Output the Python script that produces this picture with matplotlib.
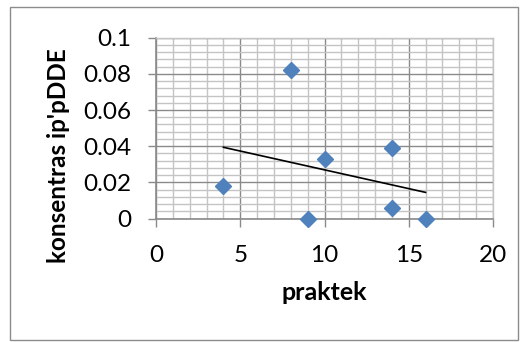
import numpy as np
import matplotlib
matplotlib.use("Agg")
import matplotlib.pyplot as plt
from matplotlib.ticker import MultipleLocator
from matplotlib.patches import Rectangle

# praktek vs. concentration of p'p-DDE
praktek = [4, 8, 9, 10, 14, 14, 16]
konsentrasi = [0.018, 0.082, 0.0, 0.033, 0.039, 0.006, 0.0]

x_ticks = [0, 5, 10, 15, 20]
y_ticks = [0, 0.02, 0.04, 0.06, 0.08, 0.1]
y_tick_labels = ["0", "0.02", "0.04", "0.06", "0.08", "0.1"]

plt.rcParams['font.family'] = ['Lato', 'DejaVu Sans']

fig = plt.figure(figsize=(5.23, 3.42), dpi=100)
ax = fig.add_axes([156 / 523, 1 - 218.5 / 342, (493 - 156) / 523, (218.5 - 37.7) / 342])

# outer chart border
fig.patches.append(Rectangle((10 / 523, 1 - 340 / 342), 508 / 523, 333 / 342,
                             transform=fig.transFigure, fill=False,
                             edgecolor='#8c8c8c', linewidth=1.0))

ax.set_xlim(0, 20)
ax.set_ylim(0, 0.1)
ax.xaxis.set_minor_locator(MultipleLocator(1))
ax.yaxis.set_minor_locator(MultipleLocator(0.004))
ax.set_xticks(x_ticks)
ax.set_yticks(y_ticks)
ax.set_yticklabels(y_tick_labels)

ax.grid(which='minor', color='#c4c4c4', linewidth=1.0)
ax.grid(which='major', color='#8a8a8a', linewidth=1.0)
ax.set_axisbelow(True)

for side in ['top', 'right']:
    ax.spines[side].set_color('#c4c4c4')
    ax.spines[side].set_linewidth(1.0)
for side in ['left', 'bottom']:
    ax.spines[side].set_color('#8a8a8a')
    ax.spines[side].set_linewidth(1.2)

ax.tick_params(which='major', length=6, width=1.0, color='#8a8a8a',
               labelsize=17.5)
ax.tick_params(axis='y', pad=12)
ax.tick_params(axis='x', pad=13)
ax.tick_params(which='minor', length=0)

# data points
ax.plot(praktek, konsentrasi, linestyle='none', marker='D', markersize=8.5,
        color='#4f81bd', clip_on=False, zorder=3)

# linear trendline
slope, intercept = np.polyfit(praktek, konsentrasi, 1)
xt = np.array([min(praktek), max(praktek)])
ax.plot(xt, slope * xt + intercept, color='black', linewidth=1.2, zorder=2)

ax.set_xlabel("praktek", fontsize=18, fontweight='bold', labelpad=11)
ax.set_ylabel("konsentras ip'pDDE", fontsize=17.5, fontweight='bold')
ax.yaxis.set_label_coords(-0.255, 0.346)

fig.savefig("out.png", dpi=100)
